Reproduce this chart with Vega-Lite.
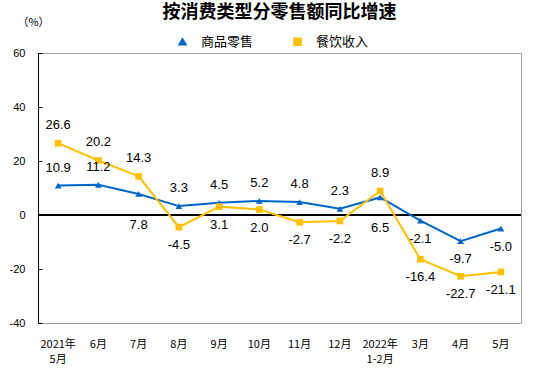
{
  "$schema": "https://vega.github.io/schema/vega-lite/v6.json",
  "width": 483,
  "height": 270,
  "autosize": "none",
  "padding": {"left": 38, "top": 53, "right": 39, "bottom": 45},
  "title": {"text": "按消费类型分零售额同比增速", "font": "Noto Sans CJK SC", "fontSize": 18, "fontWeight": "bold", "color": "#000000", "anchor": "middle", "offset": -6},
  "config": {
    "view": {"stroke": "#A0A0A0"}
  },
  "data": {
    "values": [
      {"month": "2021年5月", "series": "商品零售", "value": 10.9},
      {"month": "6月", "series": "商品零售", "value": 11.2},
      {"month": "7月", "series": "商品零售", "value": 7.8},
      {"month": "8月", "series": "商品零售", "value": 3.3},
      {"month": "9月", "series": "商品零售", "value": 4.5},
      {"month": "10月", "series": "商品零售", "value": 5.2},
      {"month": "11月", "series": "商品零售", "value": 4.8},
      {"month": "12月", "series": "商品零售", "value": 2.3},
      {"month": "2022年1-2月", "series": "商品零售", "value": 6.5},
      {"month": "3月", "series": "商品零售", "value": -2.1},
      {"month": "4月", "series": "商品零售", "value": -9.7},
      {"month": "5月", "series": "商品零售", "value": -5.0},
      {"month": "2021年5月", "series": "餐饮收入", "value": 26.6},
      {"month": "6月", "series": "餐饮收入", "value": 20.2},
      {"month": "7月", "series": "餐饮收入", "value": 14.3},
      {"month": "8月", "series": "餐饮收入", "value": -4.5},
      {"month": "9月", "series": "餐饮收入", "value": 3.1},
      {"month": "10月", "series": "餐饮收入", "value": 2.0},
      {"month": "11月", "series": "餐饮收入", "value": -2.7},
      {"month": "12月", "series": "餐饮收入", "value": -2.2},
      {"month": "2022年1-2月", "series": "餐饮收入", "value": 8.9},
      {"month": "3月", "series": "餐饮收入", "value": -16.4},
      {"month": "4月", "series": "餐饮收入", "value": -22.7},
      {"month": "5月", "series": "餐饮收入", "value": -21.1}
    ]
  },
  "encoding": {
    "y": {
      "field": "value",
      "type": "quantitative",
      "scale": {"domain": [-40, 60], "nice": false},
      "axis": {
        "values": [-40, -20, 0, 20, 40, 60],
        "grid": false,
        "domainColor": "#000000",
        "tickColor": "#000000",
        "tickSize": -4,
        "labelPadding": 17,
        "labelFont": "Liberation Sans",
        "labelFontSize": 11,
        "labelColor": "#000000",
        "labelExpr": "replace(datum.label, '−', '-')",
        "title": "（%）",
        "titleFont": "Noto Sans CJK SC",
        "titleFontSize": 11,
        "titleFontWeight": "normal",
        "titleColor": "#000000",
        "titleAngle": 0,
        "titleAlign": "center",
        "titleBaseline": "middle",
        "titleX": -5,
        "titleY": -31
      }
    }
  },
  "layer": [
    {
      "mark": {"type": "rule", "color": "#000000", "strokeWidth": 1},
      "encoding": {"y": {"datum": 0}}
    },
    {
      "mark": {"type": "line", "strokeWidth": 2},
      "encoding": {
        "x": {
          "field": "month",
          "type": "nominal",
          "sort": ["2021年5月", "6月", "7月", "8月", "9月", "10月", "11月", "12月", "2022年1-2月", "3月", "4月", "5月"],
          "scale": {"type": "band", "paddingInner": 0, "paddingOuter": 0},
          "axis": {
            "title": null,
            "domain": false,
            "ticks": false,
            "labelPadding": 15,
            "labelAngle": 0,
            "labelFont": "Noto Sans CJK SC",
            "labelFontSize": 11,
            "labelColor": "#000000",
            "labelLineHeight": 15,
            "labelExpr": "indexof(datum.value,'年')>0 ? [slice(datum.value,0,indexof(datum.value,'年')+1), slice(datum.value,indexof(datum.value,'年')+1)] : datum.value"
          }
        },
        "color": {"field": "series", "type": "nominal", "scale": {"domain": ["商品零售", "餐饮收入"], "range": ["#0066CC", "#FFC000"]}}
      }
    },
    {
      "mark": {"type": "point", "filled": true, "size": 45, "opacity": 1},
      "encoding": {
        "x": {"field": "month", "type": "nominal", "sort": ["2021年5月", "6月", "7月", "8月", "9月", "10月", "11月", "12月", "2022年1-2月", "3月", "4月", "5月"]},
        "shape": {"field": "series", "type": "nominal", "scale": {"domain": ["商品零售", "餐饮收入"], "range": ["triangle-up", "square"]}, "legend": null},
        "color": {
          "field": "series",
          "type": "nominal",
          "scale": {"domain": ["商品零售", "餐饮收入"], "range": ["#0066CC", "#FFC000"]},
          "legend": {
            "title": null,
            "orient": "none",
            "direction": "horizontal",
            "legendX": 138,
            "legendY": -18,
            "symbolSize": 50,
            "labelFont": "Noto Sans CJK SC",
            "labelFontSize": 13,
            "labelColor": "#000000",
            "labelOffset": 12,
            "columnPadding": 36
          }
        }
      }
    },
    {
      "transform": [{"filter": "(datum.series === '商品零售' && indexof(['2021年5月','6月','8月','9月','10月','11月','12月'], datum.month) >= 0) || (datum.series === '餐饮收入' && indexof(['2021年5月','6月','7月','2022年1-2月'], datum.month) >= 0)"}],
      "mark": {"type": "text", "dy": -18, "baseline": "middle", "align": "center", "font": "Liberation Sans", "fontSize": 13, "color": "#000000", "text": {"expr": "replace(format(datum.value, '.1f'), '−', '-')"}},
      "encoding": {
        "x": {"field": "month", "type": "nominal", "sort": ["2021年5月", "6月", "7月", "8月", "9月", "10月", "11月", "12月", "2022年1-2月", "3月", "4月", "5月"]}
      }
    },
    {
      "transform": [{"filter": "datum.series === '商品零售' && (datum.month === '7月' || datum.month === '2022年1-2月')"}],
      "mark": {"type": "text", "dy": 31, "baseline": "middle", "align": "center", "font": "Liberation Sans", "fontSize": 13, "color": "#000000", "text": {"expr": "replace(format(datum.value, '.1f'), '−', '-')"}},
      "encoding": {
        "x": {"field": "month", "type": "nominal", "sort": ["2021年5月", "6月", "7月", "8月", "9月", "10月", "11月", "12月", "2022年1-2月", "3月", "4月", "5月"]}
      }
    },
    {
      "transform": [{"filter": "!((datum.series === '商品零售' && indexof(['2021年5月','6月','7月','8月','9月','10月','11月','12月','2022年1-2月'], datum.month) >= 0) || (datum.series === '餐饮收入' && indexof(['2021年5月','6月','7月','2022年1-2月'], datum.month) >= 0))"}],
      "mark": {"type": "text", "dy": 18, "baseline": "middle", "align": "center", "font": "Liberation Sans", "fontSize": 13, "color": "#000000", "text": {"expr": "replace(format(datum.value, '.1f'), '−', '-')"}},
      "encoding": {
        "x": {"field": "month", "type": "nominal", "sort": ["2021年5月", "6月", "7月", "8月", "9月", "10月", "11月", "12月", "2022年1-2月", "3月", "4月", "5月"]}
      }
    }
  ]
}
